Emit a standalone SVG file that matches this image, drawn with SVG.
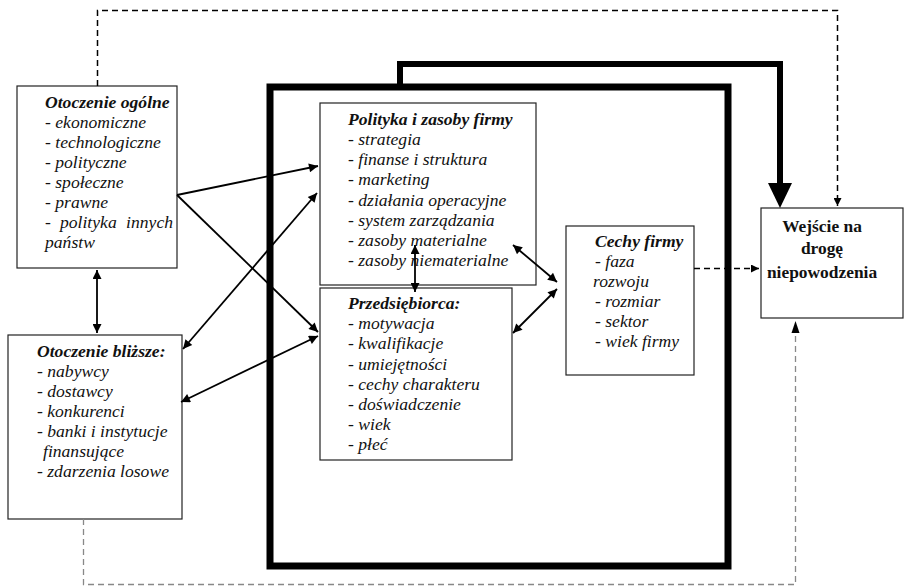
<svg xmlns="http://www.w3.org/2000/svg" width="905" height="587" viewBox="0 0 905 587">
  <defs>
    <marker id="arrow" viewBox="0 0 10 10" refX="10" refY="5" markerWidth="11" markerHeight="9" markerUnits="userSpaceOnUse" orient="auto-start-reverse">
      <path d="M0,0 L10,5 L0,10 Z" fill="#000"/>
    </marker>
    <marker id="arrowSmall" viewBox="0 0 10 10" refX="10" refY="5" markerWidth="9" markerHeight="8" markerUnits="userSpaceOnUse" orient="auto-start-reverse">
      <path d="M0,0 L10,5 L0,10 Z" fill="#000"/>
    </marker>
  </defs>
  <style>
    .box { fill: #fff; stroke: #222; stroke-width: 1.2; }
    .frame { fill: none; stroke: #000; stroke-width: 7; }
    .txt { font-family: "Liberation Serif", "Times New Roman", serif; font-size: 17.6px; font-style: italic; fill: #111; }
    .title { font-weight: bold; }
    .result { font-family: "Liberation Serif", "Times New Roman", serif; font-size: 17.4px; font-weight: bold; fill: #111; text-anchor: middle; }
    .link { fill: none; stroke: #000; stroke-width: 1.8; }
    .dash { fill: none; stroke: #000; stroke-width: 1.5; stroke-dasharray: 6 4; }
    .dashGray { fill: none; stroke: #888; stroke-width: 1.3; stroke-dasharray: 6 4; }
  </style>
  <rect width="905" height="587" fill="#fff"/>

  <!-- firm boundary: heavy frame -->
  <g id="firm-frame">
    <rect class="frame" x="270" y="87" width="458" height="479"/>
  </g>

  <g id="otoczenie-ogolne">
    <rect class="box" x="17" y="86" width="160" height="182"/>
    <text class="txt title" x="45" y="108">Otoczenie ogólne</text>
    <text class="txt" x="45" y="128">- ekonomiczne</text>
    <text class="txt" x="45" y="148">- technologiczne</text>
    <text class="txt" x="45" y="168">- polityczne</text>
    <text class="txt" x="45" y="188">- społeczne</text>
    <text class="txt" x="45" y="208">- prawne</text>
    <text class="txt" x="45" y="228">-</text>
    <text class="txt" x="60" y="228">polityka</text>
    <text class="txt" x="173" y="228" text-anchor="end">innych</text>
    <text class="txt" x="45" y="248">państw</text>
  </g>

  <g id="otoczenie-blizsze">
    <rect class="box" x="8" y="335" width="174" height="184"/>
    <text class="txt title" x="37" y="357">Otoczenie bliższe:</text>
    <text class="txt" x="37" y="377">- nabywcy</text>
    <text class="txt" x="37" y="397">- dostawcy</text>
    <text class="txt" x="37" y="417">- konkurenci</text>
    <text class="txt" x="37" y="437">- banki i instytucje</text>
    <text class="txt" x="43" y="457">finansujące</text>
    <text class="txt" x="37" y="477">- zdarzenia losowe</text>
  </g>

  <g id="polityka-i-zasoby">
    <rect class="box" x="320" y="103" width="216" height="182"/>
    <text class="txt title" x="348" y="125">Polityka i zasoby firmy</text>
    <text class="txt" x="348" y="145">- strategia</text>
    <text class="txt" x="348" y="165">- finanse i struktura</text>
    <text class="txt" x="348" y="185">- marketing</text>
    <text class="txt" x="348" y="206">- działania operacyjne</text>
    <text class="txt" x="348" y="226">- system zarządzania</text>
    <text class="txt" x="348" y="246">- zasoby materialne</text>
    <text class="txt" x="348" y="266">- zasoby niematerialne</text>
  </g>

  <g id="przedsiebiorca">
    <rect class="box" x="320" y="288" width="192" height="172"/>
    <text class="txt title" x="348" y="309">Przedsiębiorca:</text>
    <text class="txt" x="348" y="329">- motywacja</text>
    <text class="txt" x="348" y="349">- kwalifikacje</text>
    <text class="txt" x="348" y="370">- umiejętności</text>
    <text class="txt" x="348" y="390">- cechy charakteru</text>
    <text class="txt" x="348" y="410">- doświadczenie</text>
    <text class="txt" x="348" y="430">- wiek</text>
    <text class="txt" x="348" y="450">- płeć</text>
  </g>

  <g id="cechy-firmy">
    <rect class="box" x="566" y="226" width="128" height="149"/>
    <text class="txt title" x="595" y="247">Cechy firmy</text>
    <text class="txt" x="595" y="267">- faza</text>
    <text class="txt" x="593" y="287">rozwoju</text>
    <text class="txt" x="595" y="307">- rozmiar</text>
    <text class="txt" x="595" y="327">- sektor</text>
    <text class="txt" x="595" y="347">- wiek firmy</text>
  </g>

  <g id="wejscie">
    <rect class="box" x="761" y="208" width="142" height="110"/>
    <text class="result" x="822" y="232">Wejście na</text>
    <text class="result" x="822" y="254">drogę</text>
    <text class="result" x="822" y="278">niepowodzenia</text>
  </g>

  <g id="connectors">
    <!-- heavy connector from the firm frame to the outcome -->
    <path d="M400,85 V64 H780 V185" fill="none" stroke="#000" stroke-width="6"/>
    <polygon points="768,183 792,183 780,208" fill="#000"/>

    <!-- dashed links to the outcome -->
    <path class="dash" d="M97.5,86 V10.5 H837.5 V206" marker-end="url(#arrowSmall)"/>
    <path class="dash" d="M694,268.5 H759" marker-end="url(#arrowSmall)"/>
    <path class="dashGray" d="M83.5,519 V584.5 H795.5 V323"/>
    <polygon points="791.5,333 799.5,333 795.5,321" fill="#000"/>

    <!-- environment links -->
    <line class="link" x1="97" y1="270" x2="97" y2="333" marker-start="url(#arrow)" marker-end="url(#arrow)"/>
    <line class="link" x1="177" y1="195" x2="318" y2="166" marker-end="url(#arrow)"/>
    <line class="link" x1="177" y1="195" x2="318" y2="332" marker-end="url(#arrow)"/>
    <line class="link" x1="183" y1="349" x2="317" y2="193" marker-start="url(#arrow)" marker-end="url(#arrow)"/>
    <line class="link" x1="181" y1="402" x2="318" y2="336" marker-start="url(#arrow)" marker-end="url(#arrow)"/>

    <!-- internal firm links -->
    <line class="link" x1="415" y1="245" x2="415" y2="292" marker-start="url(#arrow)" marker-end="url(#arrow)"/>
    <line class="link" x1="513" y1="245" x2="557" y2="282" marker-start="url(#arrow)" marker-end="url(#arrow)"/>
    <line class="link" x1="513" y1="333" x2="557" y2="289" marker-start="url(#arrow)" marker-end="url(#arrow)"/>
  </g>
</svg>
